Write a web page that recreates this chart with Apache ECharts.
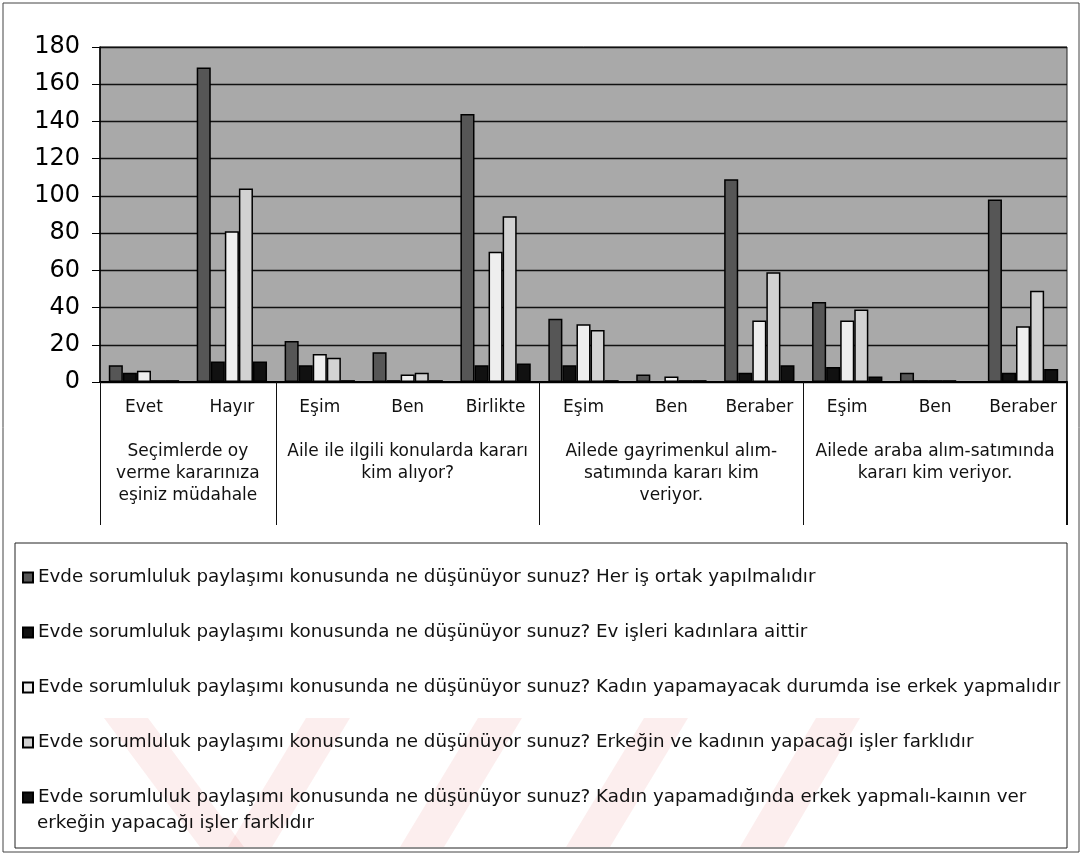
<!DOCTYPE html>
<html>
<head>
<meta charset="utf-8">
<script src="https://cdn.jsdelivr.net/npm/echarts@6/dist/echarts.min.js"></script>
<style>
html, body { margin: 0; padding: 0; background: #fff; }
#chart { width: 1083px; height: 857px; }
</style>
</head>
<body>
<div id="chart"></div>
<script>
// alt kategori etiketleri (cevaplar)
const categories = ['Evet', 'Hayır', 'Eşim', 'Ben', 'Birlikte', 'Eşim', 'Ben', 'Beraber', 'Eşim', 'Ben', 'Beraber']

// üst grup etiketleri (sorular) ve kapsadıkları kategori sınırları
const groupNames = [
	'Seçimlerde oy\nverme kararınıza\neşiniz müdahale',
	'Aile ile ilgili konularda kararı\nkim alıyor?',
	'Ailede gayrimenkul alım-\nsatımında kararı kim\nveriyor.',
	'Ailede araba alım-satımında\nkararı kim veriyor.'
]
const groupEdges = [0, 2, 5, 8, 11]
const groupCenters = [1, 3.5, 6.5, 9.5]

const yTicks = [0, 20, 40, 60, 80, 100, 120, 140, 160, 180]

const seriesNames = [
	'Evde sorumluluk paylaşımı konusunda ne düşünüyor sunuz? Her iş ortak yapılmalıdır',
	'Evde sorumluluk paylaşımı konusunda ne düşünüyor sunuz? Ev işleri kadınlara aittir',
	'Evde sorumluluk paylaşımı konusunda ne düşünüyor sunuz? Kadın yapamayacak durumda ise erkek yapmalıdır',
	'Evde sorumluluk paylaşımı konusunda ne düşünüyor sunuz? Erkeğin ve kadının yapacağı işler farklıdır',
	'Evde sorumluluk paylaşımı konusunda ne düşünüyor sunuz? Kadın yapamadığında erkek yapmalı-kaının ver erkeğin yapacağı işler farklıdır'
]

const herIsOrtak = [9, 169, 22, 16, 144, 34, 4, 109, 43, 5, 98]
const kadinlaraAit = [5, 11, 9, 1, 9, 9, 0, 5, 8, 1, 5]
const kadinYapamazsa = [6, 81, 15, 4, 70, 31, 3, 33, 33, 1, 30]
const islerFarkli = [1, 104, 13, 5, 89, 28, 1, 59, 39, 1, 49]
const yapamadiginda = [1, 11, 1, 1, 10, 1, 1, 9, 3, 0, 7]

const seriesData = [herIsOrtak, kadinlaraAit, kadinYapamazsa, islerFarkli, yapamadiginda]
const barColors = ['#565656', '#111111', '#eeeeee', '#d2d2d2', '#111111']

const FONT = 'DejaVu Sans'
const LEGEND_FONT_SIZE = 18.3
const GROUP_TICK_LEN = 143

// son lejant satırı iki satıra bölünüyor: ilk satır lejantta, devamı altta
const lastName = seriesNames[4]
const breakAt = lastName.indexOf(' erkeğin')
const lastFirstLine = lastName.slice(0, breakAt)
const lastSecondLine = lastName.slice(breakAt + 1)

const chart = echarts.init(document.getElementById('chart'))

// filigran şeritleri (sadece görsel)
const stripe = (x1, x2, y1, y2, w) => ({
	type: 'polygon',
	z: 0,
	silent: true,
	shape: { points: [[x1, y1], [x1 + w, y1], [x2 + w, y2], [x2, y2]] },
	style: { fill: 'rgba(225, 70, 70, 0.09)' }
})

chart.setOption({
	animation: false,
	backgroundColor: '#fff',
	textStyle: { fontFamily: FONT },
	graphic: [
		{
			type: 'rect',
			z: 1,
			silent: true,
			shape: { x: 3, y: 3, width: 1076, height: 849 },
			style: { fill: 'none', stroke: '#444', lineWidth: 1 }
		},
		{
			type: 'rect',
			z: 1,
			silent: true,
			shape: { x: 15, y: 543, width: 1052, height: 305 },
			style: { fill: 'none', stroke: '#222', lineWidth: 1 }
		},
		stripe(104, 200, 718, 847, 44),
		stripe(306, 228, 718, 847, 44),
		stripe(478, 400, 718, 847, 44),
		stripe(644, 566, 718, 847, 44),
		stripe(816, 740, 718, 847, 44),
		{
			type: 'text',
			z: 10,
			silent: true,
			x: 37,
			y: 823,
			style: {
				text: lastSecondLine,
				fontFamily: FONT,
				fontSize: LEGEND_FONT_SIZE,
				fill: '#111',
				verticalAlign: 'middle'
			}
		}
	],
	grid: {
		left: 100,
		right: 16,
		top: 47,
		bottom: 475,
		show: true,
		backgroundColor: '#a9a9a9',
		borderColor: '#222',
		borderWidth: 1
	},
	legend: {
		orient: 'vertical',
		left: 22,
		top: 565,
		height: 300,
		z: 10,
		padding: 0,
		itemWidth: 10,
		itemHeight: 10,
		itemGap: 30,
		icon: 'rect',
		data: seriesNames,
		formatter: name => (name === lastName ? lastFirstLine : name),
		textStyle: {
			fontFamily: FONT,
			fontSize: LEGEND_FONT_SIZE,
			lineHeight: 25,
			color: '#111'
		}
	},
	xAxis: [
		{
			type: 'category',
			data: categories,
			axisLine: { lineStyle: { color: '#000', width: 2 } },
			axisTick: { interval: 0, length: 50, lineStyle: { color: '#111', width: 1 } },
			axisLabel: { interval: 0, margin: 17, fontSize: 17, color: '#111', fontFamily: FONT }
		},
		{
			type: 'value',
			position: 'bottom',
			min: 0,
			max: 11.001,
			axisLine: { show: false },
			splitLine: { show: false },
			axisTick: { show: true, customValues: groupEdges, length: GROUP_TICK_LEN, lineStyle: { color: '#111', width: 1 } },
			axisLabel: {
				customValues: groupCenters,
				formatter: v => groupNames[groupCenters.indexOf(v)],
				margin: 59,
				fontSize: 17,
				lineHeight: 22,
				align: 'center',
				color: '#111',
				fontFamily: FONT
			}
		}
	],
	yAxis: {
		type: 'value',
		min: yTicks[0],
		max: yTicks[yTicks.length - 1],
		interval: 20,
		axisLine: { show: true, lineStyle: { color: '#000', width: 1.5 } },
		axisTick: { show: true, length: 8, lineStyle: { color: '#000' } },
		axisLabel: { margin: 20, fontSize: 24, color: '#000', fontFamily: FONT },
		splitLine: { lineStyle: { color: '#111', width: 1.3 } }
	},
	series: seriesData.map((data, i) => ({
		name: seriesNames[i],
		type: 'bar',
		xAxisIndex: 0,
		data,
		barGap: '0%',
		barCategoryGap: '20%',
		itemStyle: {
			color: barColors[i],
			borderColor: '#000',
			borderWidth: 1.5
		}
	}))
})

// sağ kenardaki son ayırıcı çizgi (eksen ölçeğinden hesaplanıyor)
const rightEdge = chart.convertToPixel({ xAxisIndex: 1, yAxisIndex: 0 }, [groupEdges[groupEdges.length - 1], yTicks[0]])
chart.setOption({
	graphic: [{
		id: 'right-edge',
		type: 'line',
		z: 5,
		silent: true,
		shape: { x1: Math.round(rightEdge[0]) - 0.5, y1: rightEdge[1], x2: Math.round(rightEdge[0]) - 0.5, y2: rightEdge[1] + GROUP_TICK_LEN },
		style: { stroke: '#111', lineWidth: 1 }
	}]
})
</script>
</body>
</html>
